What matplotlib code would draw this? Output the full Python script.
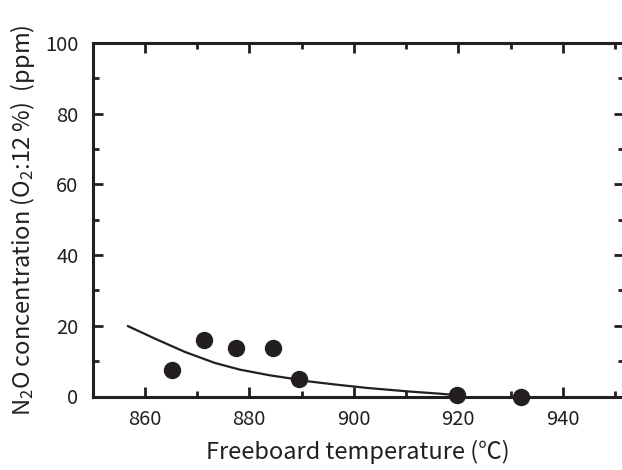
import matplotlib
matplotlib.use("Agg")
import matplotlib.pyplot as plt
from matplotlib.ticker import MultipleLocator

plt.rcParams['font.family'] = ['Noto Sans CJK JP', 'DejaVu Sans']
plt.rcParams['mathtext.fontset'] = 'custom'
plt.rcParams['mathtext.rm'] = 'Noto Sans CJK JP'
plt.rcParams['mathtext.it'] = 'Noto Sans CJK JP'
plt.rcParams['mathtext.default'] = 'rm'

# measured points
temp_pts = [865.2, 871.3, 877.4, 884.5, 889.5, 919.8, 932.0]
n2o_pts = [7.5, 16.0, 13.6, 13.6, 5.0, 0.4, 0.0]

# fitted curve
curve_x = [856.8, 861.9, 867.7, 873.4, 878.2, 883.9, 888.4, 891.2, 897.0, 902.7, 910.7, 916.4, 919.6]
curve_y = [19.9, 16.4, 12.6, 9.5, 7.6, 6.0, 5.0, 4.3, 3.3, 2.4, 1.4, 0.8, 0.4]

xticks = [860, 880, 900, 920, 940]
yticks = [0, 20, 40, 60, 80, 100]

ink = '#231f20'
fig = plt.figure(figsize=(6.22, 4.70), dpi=100)
ax = fig.add_axes([92.5/622, 1 - 396.5/470, (624 - 92.5)/622, (396.5 - 43)/470])

ax.plot(curve_x, curve_y, color=ink, lw=1.6, clip_on=False, solid_joinstyle='round')
ax.plot(temp_pts, n2o_pts, 'o', color=ink, ms=11.5, clip_on=False, zorder=3)

ax.set_xlim(850, 951.7)
ax.set_ylim(0, 100)
ax.set_xticks(xticks)
ax.set_yticks(yticks)
ax.xaxis.set_minor_locator(MultipleLocator(10))
ax.yaxis.set_minor_locator(MultipleLocator(10))
ax.tick_params(which='both', direction='in', top=True, right=True, width=2, color=ink,
               labelcolor=ink, labelsize=14.5)
ax.tick_params(which='major', length=7)
ax.tick_params(which='minor', length=4)
ax.tick_params(axis='x', which='major', pad=9)
ax.tick_params(axis='y', which='major', pad=10)
for s in ax.spines.values():
    s.set_linewidth(2.2)
    s.set_color(ink)

ax.set_xlabel('Freeboard temperature (℃)', fontsize=17, color=ink, labelpad=7)
ax.set_ylabel('N$_2$O concentration (O$_2$:12 %)  (ppm)', fontsize=17, color=ink, labelpad=6)

fig.savefig('out.png', dpi=100)
